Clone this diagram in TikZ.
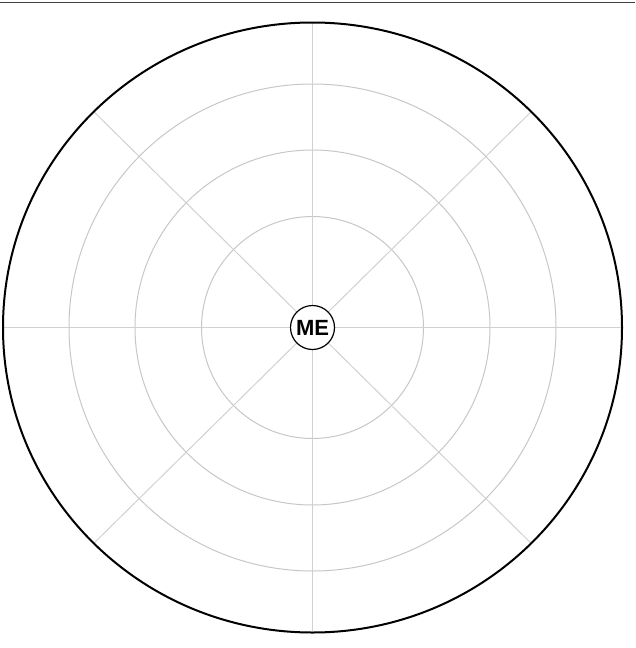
\documentclass[tikz,border=0pt]{standalone}
\usepackage{fontspec}
\setmainfont{Liberation Sans}
\begin{document}
\begin{tikzpicture}[x=1pt,y=-1pt,
  ring/.style={draw=black!22,line width=1pt},
  spoke/.style={draw=black!18,line width=1pt},
  outer/.style={draw=black,line width=2pt},
  me/.style={circle,draw=black,line width=1.2pt,minimum size=44pt,inner sep=0pt,fill=white,font=\fontsize{22}{22}\selectfont\bfseries}]
\useasboundingbox (0,0) rectangle (635,648);
\coordinate (c) at (312.5,327.5);
\coordinate (tl) at (0,2.5);
\coordinate (tr) at (635,2.5);
\draw[draw=black!75,line width=1.3pt] (tl) -- (tr);
\foreach \r in {111,177.5,243.5} \draw[ring] (c) circle (\r);
\foreach \a in {0,45,...,315} \draw[spoke] (c) -- ++({309*cos(\a)},{305*sin(\a)});
\draw[outer] (c) ellipse [x radius=309.5,y radius=305];
\node[me] (me) at (c) {ME};
\end{tikzpicture}
\end{document}
